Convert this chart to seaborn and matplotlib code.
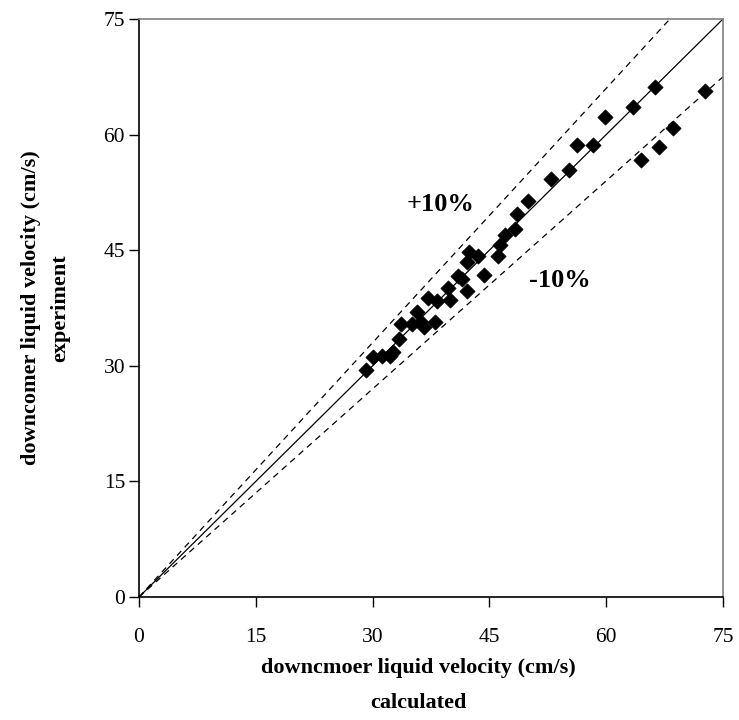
import numpy as np
import pandas as pd
import matplotlib
matplotlib.use("Agg")
import matplotlib.pyplot as plt
import seaborn as sns

# Downcomer liquid velocity (cm/s): model vs. measurement
calculated = [29.2, 30.0, 31.2, 32.2, 32.6, 33.4, 33.6, 35.1, 35.7, 36.2,
              36.6, 37.1, 38.0, 38.3, 39.7, 39.9, 41.0, 41.5, 42.1, 42.4,
              43.5, 42.1, 44.3, 46.1, 46.3, 47.0, 48.3, 48.6, 49.9, 52.9,
              55.2, 56.2, 58.3, 59.8, 63.4, 66.3, 64.5, 66.8, 68.6, 72.7]
experiment = [29.5, 31.1, 31.3, 31.3, 31.8, 33.5, 35.4, 35.4, 37.0, 35.7,
              35.0, 38.8, 35.7, 38.4, 40.1, 38.5, 41.6, 41.3, 39.7, 44.8,
              44.2, 43.5, 41.8, 44.2, 45.7, 47.0, 47.7, 49.7, 51.4, 54.2,
              55.4, 58.6, 58.6, 62.3, 63.6, 66.2, 56.7, 58.4, 60.8, 65.7]

ticks = [0, 15, 30, 45, 60, 75]
ref_x = [0, 75]
band_factors = {"+10%": 1.1, "-10%": 0.9}

df = pd.DataFrame({"calculated": calculated, "experiment": experiment})

sns.set_theme(style="white")
plt.rcParams["font.family"] = ["Liberation Serif", "DejaVu Serif"]
plt.rcParams["text.color"] = "black"
plt.rcParams["axes.labelcolor"] = "black"
plt.rcParams["xtick.color"] = "black"
plt.rcParams["ytick.color"] = "black"

fig = plt.figure(figsize=(7.39, 7.20), dpi=100)
ax = fig.add_axes([139 / 739, 1 - 597 / 720, (723 - 139) / 739, (597 - 19) / 720])

# parity line and +/-10% band
ax.plot(ref_x, ref_x, color="black", lw=0.9, zorder=1)
for label, f in band_factors.items():
    ax.plot(ref_x, [v * f for v in ref_x], color="black", lw=0.9,
            ls=(0, (5, 4)), zorder=1)

sns.scatterplot(data=df, x="calculated", y="experiment", marker="D",
                color="black", s=60, edgecolor="black", linewidth=0.5,
                ax=ax, zorder=3, legend=False)

ax.text(38.7, 50.9, "+10%", fontsize=19, fontweight="bold",
        ha="center", va="center")
ax.text(54.1, 41.1, "-10%", fontsize=19, fontweight="bold",
        ha="center", va="center")

ax.set_xlim(0, 75)
ax.set_ylim(0, 75)
ax.set_xticks(ticks)
ax.set_yticks(ticks)
ax.tick_params(axis="both", direction="out", length=7, width=1,
               color="black", labelcolor="black", labelsize=15.5,
               bottom=True, left=True)
ax.tick_params(axis="x", pad=15)
ax.tick_params(axis="y", pad=3)

for side in ["left", "bottom"]:
    ax.spines[side].set_color("black")
    ax.spines[side].set_linewidth(1.2)
for side in ["top", "right"]:
    ax.spines[side].set_color("#808080")
    ax.spines[side].set_linewidth(1.2)

ax.set_xlabel("downcmoer liquid velocity (cm/s)\ncalculated",
              fontsize=16, fontweight="bold", linespacing=2.0)
ax.xaxis.set_label_coords(0.478, -0.106, transform=ax.transAxes)
ax.xaxis.label.set_va("top")
ax.set_ylabel("downcomer liquid velocity (cm/s)\nexperiment",
              fontsize=16, fontweight="bold", linespacing=1.6, labelpad=24)

fig.savefig("out.png", dpi=100, facecolor="white")
